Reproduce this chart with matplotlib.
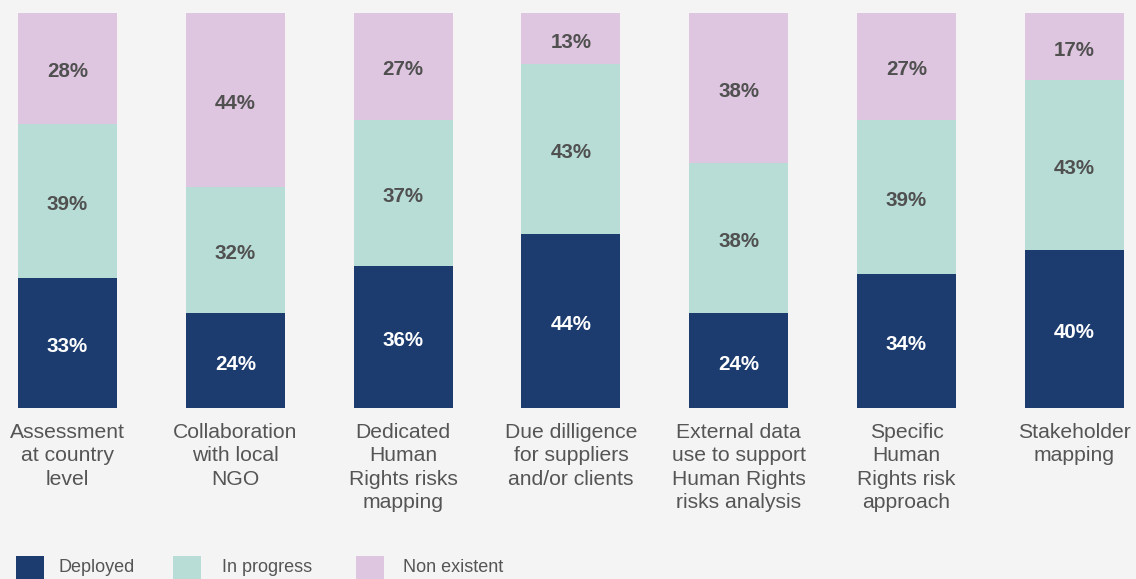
import numpy as np
import matplotlib.pyplot as plt
from matplotlib.patches import Rectangle

categories = ["Assessment\nat country\nlevel",
              "Collaboration\nwith local\nNGO",
              "Dedicated\nHuman\nRights risks\nmapping",
              "Due dilligence\nfor suppliers\nand/or clients",
              "External data\nuse to support\nHuman Rights\nrisks analysis",
              "Specific\nHuman\nRights risk\napproach",
              "Stakeholder\nmapping"]
series = ["Deployed", "In progress", "Non existent"]
deployed = [33, 24, 36, 44, 24, 34, 40]
in_progress = [39, 32, 37, 43, 38, 39, 43]
non_existent = [28, 44, 27, 13, 38, 27, 17]

colors = ["#1c3b6e", "#b7ddd6", "#dfc6e0"]
text_colors = ["white", "#505050", "#505050"]
bg = "#f4f4f4"

plt.rcParams['font.family'] = ['Liberation Sans', 'DejaVu Sans']

fig = plt.figure(figsize=(11.36, 5.79), dpi=100, facecolor=bg)
ax = fig.add_axes([0, 171 / 579, 1, 395 / 579])
ax.set_facecolor(bg)

x = np.arange(len(categories))
step = 167.8
ax.set_xlim(-67.5 / step, 6 + (1136 - 1074.3) / step)
ax.set_ylim(0, 100)

bottom = np.zeros(len(categories))
for vals, c, tc in zip([deployed, in_progress, non_existent], colors, text_colors):
    vals = np.array(vals)
    ax.bar(x, vals, bottom=bottom, width=99 / step, color=c, linewidth=0)
    for xi, b, v in zip(x, bottom, vals):
        ax.annotate(f"{v}%", (xi, b + v / 2), xytext=(0, -2.5), textcoords="offset points",
                    ha="center", va="center", fontsize=14.8, fontweight="bold", color=tc)
    bottom += vals

ax.set_xticks(x)
ax.set_xticklabels(categories, fontsize=15.2, color="#555555", linespacing=1.28, va="top")
ax.tick_params(axis="x", length=0, pad=11)
ax.set_yticks([])
for s in ax.spines.values():
    s.set_visible(False)

# legend drawn along the bottom edge
legend_x = [16, 173, 356]
text_x = [59, 222, 403]
for name, c, lx, tx in zip(series, colors, legend_x, text_x):
    fig.patches.append(Rectangle((lx / 1136, -0.01), 28 / 1136, 29 / 579,
                                 transform=fig.transFigure, color=c, linewidth=0))
    fig.text(tx / 1136, 12 / 579, name, fontsize=13, color="#555555",
             ha="left", va="center")

fig.savefig("out.png", dpi=100, facecolor=bg)
